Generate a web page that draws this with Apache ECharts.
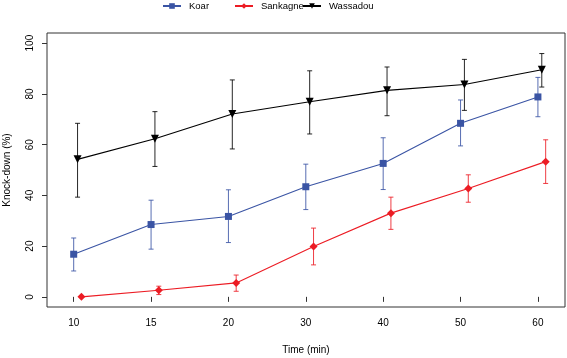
<!DOCTYPE html>
<html><head><meta charset="utf-8">
<script src="https://cdn.jsdelivr.net/npm/echarts@6/dist/echarts.min.js"></script>
<style>html,body{margin:0;padding:0;background:#fff}#c{width:567px;height:358px}</style>
</head><body><div id="c"></div>
<script>
const categories = ['10','15','20','30','40','50','60'];
const yTicks = [0,20,40,60,80,100];
const koarMean = [16.8,28.5,31.7,43.4,52.6,68.4,78.8];
const koarLow  = [10.2,18.8,21.4,34.4,42.3,59.5,71.0];
const koarHigh = [23.2,38.1,42.2,52.3,62.7,77.6,86.5];
const sankMean = [0,2.6,5.5,19.8,33.0,42.7,53.3];
const sankLow  = [0,0.9,2.2,12.6,26.6,37.3,44.7];
const sankHigh = [0,4.2,8.6,27.1,39.3,48.1,61.9];
const wassMean = [54.2,62.3,72.1,76.9,81.4,83.7,89.5];
const wassLow  = [39.3,51.4,58.3,64.2,71.4,73.5,82.7];
const wassHigh = [68.4,73.0,85.5,89.1,90.6,93.6,95.9];
const offsets = {Koar:0, Sankagne:0.1, Wassadou:0.05};

const chart = echarts.init(document.getElementById('c'), null, {renderer:'canvas'});
const font = 'Liberation Sans, Arial, sans-serif';

function pts(mean, off){ return mean.map((v,i)=>[i+1+off, v]); }
function bars(low, high, off){ return low.map((v,i)=>[i+1+off, v, high[i]]); }
function errSeries(name, low, high, off, color){
  return {
    type:'custom', name:name+'_err', data: bars(low, high, off), z:3,
    renderItem:function(params, api){
      const x = api.value(0);
      const lo = api.value(1), hi = api.value(2);
      if (hi - lo < 0.01) return null;
      const p1 = api.coord([x, lo]), p2 = api.coord([x, hi]);
      const w = 2.5;
      const st = {stroke: color, lineWidth: 1, opacity: 0.85};
      return {type:'group', children:[
        {type:'line', shape:{x1:p1[0],y1:p1[1],x2:p2[0],y2:p2[1]}, style:st},
        {type:'line', shape:{x1:p1[0]-w,y1:p1[1],x2:p1[0]+w,y2:p1[1]}, style:st},
        {type:'line', shape:{x1:p2[0]-w,y1:p2[1],x2:p2[0]+w,y2:p2[1]}, style:st}
      ]};
    }
  };
}
const blue = '#3a54a4', red = '#ec1c24', black = '#000000';
const lineS = (name, mean, color, symbol, size) => ({
  type:'line', name:name, data: pts(mean, offsets[name]), symbol:symbol, symbolSize:size,
  showSymbol:true, z:4, lineStyle:{color:color, width:1.1}, itemStyle:{color:color}, animation:false
});

const legendText = {fontFamily:font, fontSize:9.5, color:'#000'};
const mkLegend = (name, left) => ({data:[name], left:left, top:1, itemWidth:18, itemHeight:7, itemGap:8, textStyle:Object.assign({padding:[0,0,0,3]}, legendText), padding:0});

chart.setOption({
  animation:false,
  legend:[mkLegend('Koar',162), mkLegend('Sankagne',234), mkLegend('Wassadou',302)],
  grid:{left:47, right:2, top:33, bottom:51, outerBoundsMode:'none', containLabel:false, show:true, borderColor:'#333', borderWidth:1, backgroundColor:'transparent'},
  xAxis:{type:'value', min:0.655, max:7.35,
    name:'Time (min)', nameLocation:'middle', nameGap:38,
    nameTextStyle:{fontFamily:font, fontSize:10, color:'#000'},
    axisLine:{show:false}, splitLine:{show:false},
    axisTick:{show:true, inside:false, length:5, lineStyle:{color:'#333'}, customValues:[1,2,3,4,5,6,7]},
    axisLabel:{customValues:[1,2,3,4,5,6,7], formatter:v=>categories[Math.round(v)-1], fontFamily:font, fontSize:10, color:'#000', margin:11}
  },
  yAxis:{type:'value', min:-4, max:104,
    name:'Knock-down (%)', nameLocation:'middle', nameGap:35, nameRotate:90,
    nameTextStyle:{fontFamily:font, fontSize:10, color:'#000'},
    axisLine:{show:false}, splitLine:{show:false},
    axisTick:{show:true, inside:false, length:5, lineStyle:{color:'#333'}, customValues:yTicks},
    axisLabel:{customValues:yTicks, rotate:90, fontFamily:font, fontSize:10, color:'#000', margin:12}
  },
  series:[
    errSeries('Koar', koarLow, koarHigh, offsets.Koar, blue),
    errSeries('Sankagne', sankLow, sankHigh, offsets.Sankagne, red),
    errSeries('Wassadou', wassLow, wassHigh, offsets.Wassadou, black),
    lineS('Koar', koarMean, blue, 'rect', 7),
    lineS('Sankagne', sankMean, red, 'diamond', 8),
    lineS('Wassadou', wassMean, black, 'path://M0,0 L10,0 L5,9 Z', 8)
  ]
});
</script></body></html>
